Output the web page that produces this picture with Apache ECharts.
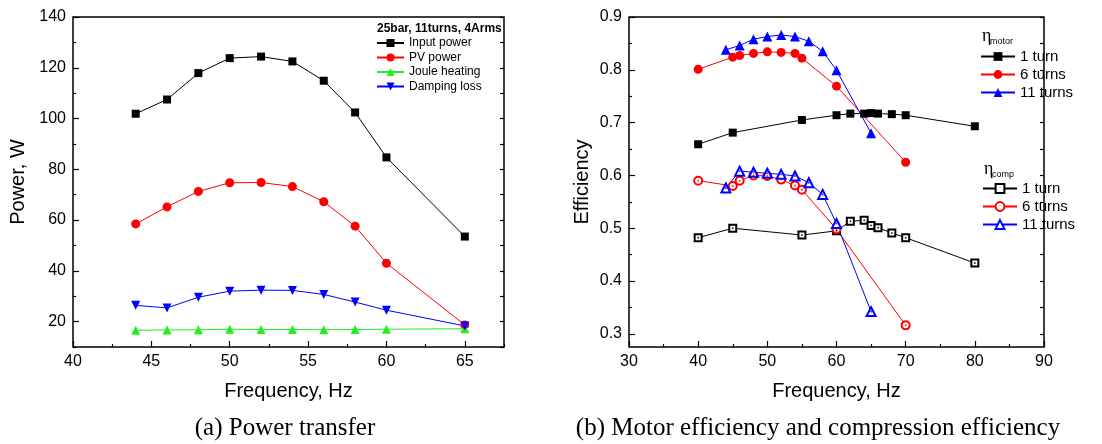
<!DOCTYPE html>
<html><head><meta charset="utf-8">
<script src="https://cdn.jsdelivr.net/npm/echarts@6/dist/echarts.min.js"></script>
<style>html,body{margin:0;padding:0;background:#fff}#c{width:1102px;height:444px}</style>
</head><body><div id="c"></div>
<script>
// ---- (a) Power transfer ----
const freqA = [44, 46, 48, 50, 52, 54, 56, 58, 60, 65];
const inputPower = [101.9, 107.5, 117.9, 123.8, 124.4, 122.5, 114.9, 102.4, 84.7, 53.5];
const pvPower = [58.5, 65.2, 71.3, 74.7, 74.8, 73.2, 67.2, 57.6, 43.0, 18.7];
const jouleHeating = [16.6, 16.7, 16.8, 17.0, 16.9, 16.9, 16.8, 16.9, 17.0, 17.2];
const dampingLoss = [26.4, 25.4, 29.6, 32.0, 32.4, 32.3, 30.7, 27.7, 24.5, 18.3];

// ---- (b) Efficiency ----
const freq1 = [40, 45, 55, 60, 62, 64, 65, 66, 68, 70, 80];
const motor1 = [0.659, 0.681, 0.705, 0.714, 0.717, 0.717, 0.718, 0.717, 0.716, 0.714, 0.693];
const comp1 = [0.482, 0.500, 0.487, 0.495, 0.513, 0.515, 0.505, 0.501, 0.491, 0.482, 0.434];
const freq6 = [40, 45, 46, 48, 50, 52, 54, 55, 60, 70];
const motor6 = [0.801, 0.824, 0.827, 0.831, 0.834, 0.833, 0.831, 0.822, 0.769, 0.625];
const comp6 = [0.590, 0.580, 0.590, 0.600, 0.599, 0.592, 0.581, 0.573, 0.498, 0.316];
const freq11 = [44, 46, 48, 50, 52, 54, 56, 58, 60, 65];
const motor11 = [0.838, 0.846, 0.858, 0.863, 0.866, 0.863, 0.854, 0.835, 0.799, 0.680];
const comp11 = [0.576, 0.608, 0.606, 0.604, 0.602, 0.599, 0.586, 0.564, 0.509, 0.342];

// ---- tick labels ----
const xTicksA = [40, 45, 50, 55, 60, 65];
const xMinorA = [42.5, 47.5, 52.5, 57.5, 62.5, 67.5];
const yTicksA = [20, 40, 60, 80, 100, 120, 140];
const yMinorA = [10, 30, 50, 70, 90, 110, 130];
const xTicksB = [30, 40, 50, 60, 70, 80, 90];
const xMinorB = [35, 45, 55, 65, 75, 85];
const yTicksB = [0.3, 0.4, 0.5, 0.6, 0.7, 0.8, 0.9];
const yMinorB = [0.35, 0.45, 0.55, 0.65, 0.75, 0.85];

const zip = (xs, ys) => xs.map((x, i) => [x, ys[i]]);
const SANS = '"Liberation Sans", Arial, sans-serif';
const SERIF = '"Liberation Serif", "Times New Roman", serif';

function mainX(g, min, max, ticks, name, fmt) {
  return { type: 'value', gridIndex: g, min, max, position: 'bottom',
    name, nameLocation: 'middle', nameGap: 34,
    nameTextStyle: { fontSize: 20, color: '#000', fontFamily: SANS },
    axisLine: { show: false }, splitLine: { show: false },
    axisTick: { inside: true, length: 6, customValues: ticks, lineStyle: { color: '#000', width: 1.2 } },
    axisLabel: { customValues: ticks, fontSize: 16, color: '#000', fontFamily: SANS, margin: 7, formatter: fmt } };
}
function minorX(g, min, max, ticks) {
  return { type: 'value', gridIndex: g, min, max, position: 'bottom',
    axisLine: { show: false }, splitLine: { show: false }, axisLabel: { show: false },
    axisTick: { inside: true, length: 3, customValues: ticks, lineStyle: { color: '#000', width: 1.2 } } };
}
function mainY(g, min, max, ticks, name, gap, fmt) {
  return { type: 'value', gridIndex: g, min, max, position: 'left',
    name, nameLocation: 'middle', nameGap: gap,
    nameTextStyle: { fontSize: 20, color: '#000', fontFamily: SANS },
    axisLine: { show: false }, splitLine: { show: false },
    axisTick: { inside: true, length: 6, customValues: ticks, lineStyle: { color: '#000', width: 1.2 } },
    axisLabel: { customValues: ticks, fontSize: 16, color: '#000', fontFamily: SANS, margin: 7, formatter: fmt } };
}
function minorY(g, min, max, ticks, pos, len) {
  return { type: 'value', gridIndex: g, min, max, position: pos,
    axisLine: { show: false }, splitLine: { show: false }, axisLabel: { show: false },
    axisTick: { inside: true, length: len, customValues: ticks, lineStyle: { color: '#000', width: 1.2 } } };
}

function line(name, data, color, symbol, size, xi, yi, z) {
  const empty = symbol.indexOf('empty') === 0;
  return { type: 'line', name, data, xAxisIndex: xi, yAxisIndex: yi, color,
    symbol, symbolSize: size, z: z || 2,
    lineStyle: { width: 1, color },
    itemStyle: empty ? { color, borderColor: color, borderWidth: 1 } : { color } ,
    emphasis: { disabled: true }, animation: false };
}
function dots(data, color) {
  return { type: 'scatter', data, xAxisIndex: 2, yAxisIndex: 3, symbol: 'circle', symbolSize: 2,
    itemStyle: { color }, z: 5, silent: true, animation: false };
}

const legendNames = { m1: '1 turn', m6: '6 turns', m11: '11 turns', c1: '1 turn', c6: '6 turns', c11: '11 turns' };
const fmt1 = v => (Math.round(v * 10) / 10).toFixed(1);

const option = {
  backgroundColor: '#fff',
  animation: false,
  grid: [
    { left: 73, top: 17, width: 431, height: 330, show: true, borderColor: '#000', borderWidth: 1.5, backgroundColor: 'transparent' },
    { left: 629, top: 17, width: 415, height: 330, show: true, borderColor: '#000', borderWidth: 1.5, backgroundColor: 'transparent' }
  ],
  xAxis: [
    mainX(0, 40, 67.5, xTicksA, 'Frequency, Hz'),
    minorX(0, 40, 67.5, xMinorA),
    mainX(1, 30, 90, xTicksB, 'Frequency, Hz'),
    minorX(1, 30, 90, xMinorB)
  ],
  yAxis: [
    mainY(0, 10, 140, yTicksA, 'Power, W', 45),
    minorY(0, 10, 140, yMinorA, 'left', 3),
    minorY(0, 10, 140, yTicksA.concat(yMinorA), 'right', 4),
    mainY(1, 0.275, 0.9, yTicksB, 'Efficiency', 37, fmt1),
    minorY(1, 0.275, 0.9, yMinorB, 'left', 3),
    minorY(1, 0.275, 0.9, yTicksB.concat(yMinorB), 'right', 4)
  ],
  legend: [
    { data: ['Input power', 'PV power', 'Joule heating', 'Damping loss'], orient: 'vertical',
      left: 376, top: 37, padding: 0, itemWidth: 27, itemHeight: 10, itemGap: 2.5,
      textStyle: { fontSize: 12, lineHeight: 12, color: '#000', fontFamily: SANS }, selectedMode: false },
    { data: ['m1', 'm6', 'm11'], orient: 'vertical', left: 980, top: 49, padding: 0,
      itemWidth: 34, itemHeight: 11, itemGap: 3, formatter: n => legendNames[n],
      textStyle: { fontSize: 15, lineHeight: 15, color: '#000', fontFamily: SANS }, selectedMode: false },
    { data: ['c1', 'c6', 'c11'], orient: 'vertical', left: 982, top: 181, padding: 0,
      itemWidth: 34, itemHeight: 11, itemGap: 3, formatter: n => legendNames[n],
      textStyle: { fontSize: 15, lineHeight: 15, color: '#000', fontFamily: SANS }, selectedMode: false }
  ],
  series: [
    line('Input power', zip(freqA, inputPower), '#000000', 'rect', 8, 0, 0),
    line('PV power', zip(freqA, pvPower), '#ff0000', 'circle', 9, 0, 0),
    line('Joule heating', zip(freqA, jouleHeating), '#22ee22', 'triangle', 9, 0, 0),
    line('Damping loss', zip(freqA, dampingLoss), '#0000ff', 'path://M0,0L10,0L5,10Z', 9, 0, 0),
    line('m1', zip(freq1, motor1), '#000000', 'rect', 8, 2, 3),
    line('m6', zip(freq6, motor6), '#ff0000', 'circle', 9, 2, 3),
    line('m11', zip(freq11, motor11), '#0000ff', 'triangle', 10, 2, 3),
    line('c1', zip(freq1, comp1), '#000000', 'emptyRect', 7, 2, 3),
    line('c6', zip(freq6, comp6), '#ff0000', 'emptyCircle', 8, 2, 3),
    line('c11', zip(freq11, comp11), '#0000ff', 'emptyTriangle', 9, 2, 3),
    dots(zip(freq1, comp1), '#000000'),
    dots(zip(freq6, comp6), '#ff0000'),
    dots(zip(freq11, comp11), '#0000ff')
  ],
  graphic: [
    { type: 'text', left: 377, top: 23, style: { text: '25bar, 11turns, 4Arms', fontSize: 12, fontWeight: 'bold', fill: '#000', fontFamily: SANS } },
    { type: 'text', x: 982, y: 36, style: { text: 'η', fontSize: 18, fill: '#000', fontFamily: SERIF, verticalAlign: 'middle' } },
    { type: 'text', x: 990, y: 42, style: { text: 'motor', fontSize: 9, fill: '#000', fontFamily: SANS, verticalAlign: 'middle' } },
    { type: 'text', x: 984, y: 169, style: { text: 'η', fontSize: 18, fill: '#000', fontFamily: SERIF, verticalAlign: 'middle' } },
    { type: 'text', x: 992, y: 175, style: { text: 'comp', fontSize: 9, fill: '#000', fontFamily: SANS, verticalAlign: 'middle' } },
    { type: 'text', x: 285, y: 428, style: { text: '(a) Power transfer', fontSize: 25, fill: '#000', fontFamily: SERIF, align: 'center', verticalAlign: 'middle' } },
    { type: 'text', x: 818, y: 428, style: { text: '(b) Motor efficiency and compression efficiency', fontSize: 25, fill: '#000', fontFamily: SERIF, align: 'center', verticalAlign: 'middle' } }
  ]
};
const chart = echarts.init(document.getElementById('c'), null, { renderer: 'canvas' });
chart.setOption(option);
</script>
</body></html>
